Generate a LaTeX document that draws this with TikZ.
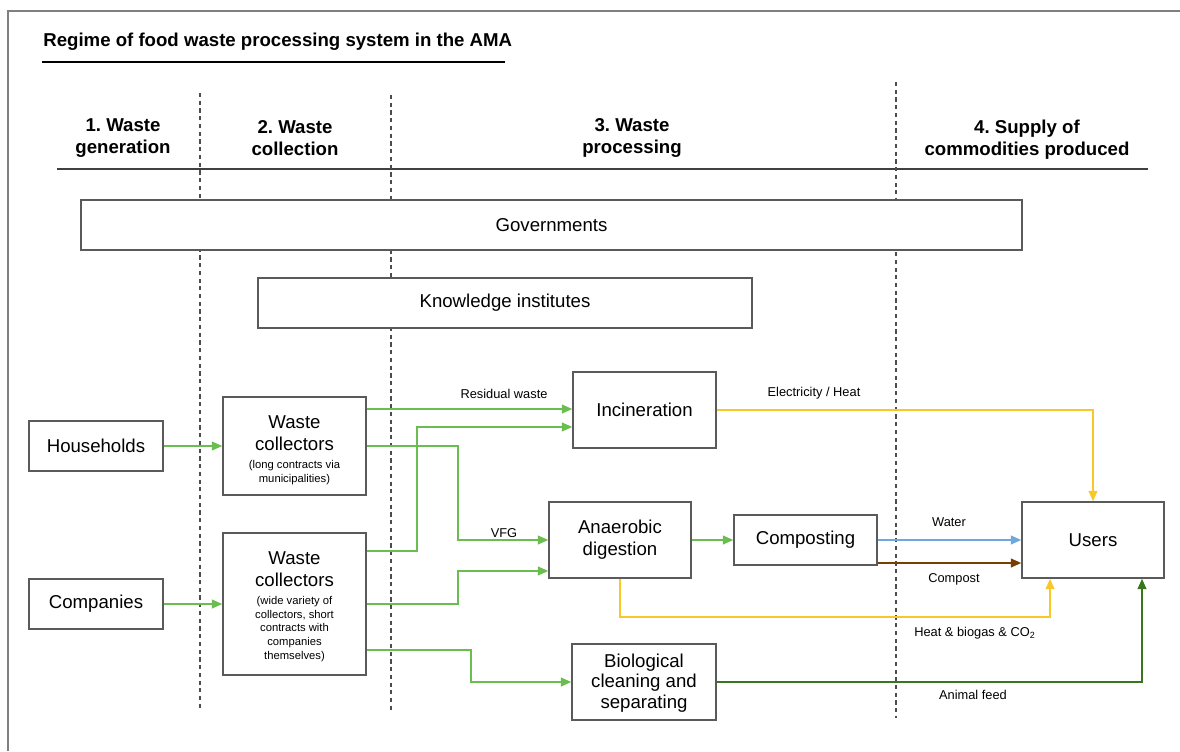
\documentclass[tikz,border=0pt]{standalone}
\usepackage{fontspec}
\setmainfont{Liberation Sans}
\usetikzlibrary{arrows.meta,calc}
\definecolor{ggreen}{RGB}{106,190,80}
\definecolor{gyellow}{RGB}{248,200,40}
\definecolor{gblue}{RGB}{111,168,220}
\definecolor{gbrown}{RGB}{120,63,4}
\definecolor{gdark}{RGB}{56,118,29}
\definecolor{bordergray}{RGB}{90,90,90}
\newcommand{\mainf}{\fontsize{10.6}{12.5}\selectfont}
\newcommand{\smallf}{\fontsize{6.4}{7.9}\selectfont}
\newcommand{\lblf}{\fontsize{7.3}{8.5}\selectfont}
\tikzset{
  box/.style={draw=bordergray, fill=white, line width=0.8pt, inner sep=0pt, align=center, font=\mainf},
  hdr/.style={align=center, font=\bfseries\fontsize{10.6}{12.5}\selectfont},
  lbl/.style={font=\lblf, inner sep=0pt},
  divider/.style={draw=black!70, line width=0.7pt, dash pattern=on 2.4pt off 2pt},
  conn/.style={line width=1.1pt, -{Triangle[length=6pt,width=5pt]}},
  gflow/.style={conn, draw=ggreen, ggreen},
  yflow/.style={conn, draw=gyellow, gyellow},
}
\begin{document}
\frenchspacing
\begin{tikzpicture}[x=0.02cm,y=-0.02cm]
\useasboundingbox (0,0) rectangle (1180,751);
\fill[white] (0,0) rectangle (1180,751);
\draw[black!50, line width=1.2pt] (8,751) -- (8,11) -- (1180,11);

% title
\node[anchor=west, inner sep=0pt, font=\bfseries\fontsize{10.6}{12.5}\selectfont] (title) at (43,42) {Regime of food waste processing system in the AMA};
\draw[line width=1.7pt] (42,62) -- (505,62);

% headers
\node[hdr] (h1) at (123,138) {1. Waste\\generation};
\node[hdr] (h2) at (295,138) {2. Waste\\collection};
\node[hdr] (h3) at (632,138) {3. Waste\\processing};
\node[hdr] (h4) at (1027,139.5) {4. Supply of\\commodities produced};
\draw[black!75, line width=0.9pt] (57,169) -- (1148,169);

% dividers
\draw[divider] (200,93) -- (200,710);
\draw[divider] (391,95) -- (391,710);
\draw[divider] (896,82) -- (896,718);

% boxes
\node[box, minimum width=18.82cm, minimum height=1.0cm] (gov) at (551.5,225) {Governments};
\node[box, minimum width=9.88cm, minimum height=1.0cm] (ki) at (505,303) {Knowledge institutes};
\node[box, minimum width=2.68cm, minimum height=1.0cm] (hh) at (96,446) {Households};
\node[box, minimum width=2.68cm, minimum height=1.0cm] (co) at (96,604) {Companies};
\node[box, minimum width=2.86cm, minimum height=1.96cm] (wc1) at (294.5,446)
  {\rule{0pt}{12.2pt}Waste\\collectors\\[-2.5pt]{\smallf (long contracts via}\\[-4.3pt]{\smallf municipalities)}};
\node[box, minimum width=2.86cm, minimum height=2.84cm] (wc2) at (294.5,604)
  {\rule{0pt}{10.4pt}Waste\\collectors\\[-2.5pt]{\smallf (wide variety of}\\[-4.7pt]{\smallf collectors, short}\\[-4.7pt]{\smallf contracts with}\\[-4.7pt]{\smallf companies}\\[-4.7pt]{\smallf themselves)}};
\node[box, minimum width=2.86cm, minimum height=1.52cm] (inc) at (644.5,410) {Incineration};
\node[box, minimum width=2.84cm, minimum height=1.52cm] (ad) at (620,540) {Anaerobic\\digestion};
\node[box, minimum width=2.86cm, minimum height=1.0cm] (comp) at (805.5,540) {Composting};
\node[box, minimum width=2.84cm, minimum height=1.52cm] (users) at (1093,540) {Users};
\node[box, minimum width=2.88cm, minimum height=1.52cm] (bio) at (644,682) {\rule{0pt}{9pt}Biological\\[-1pt]cleaning and\\[-1pt]separating};

% green flows
\draw[gflow] (hh.east) -- (hh.east -| wc1.west);
\draw[gflow] (co.east) -- (co.east -| wc2.west);
\draw[gflow] ([yshift=0.74cm]wc1.east) coordinate (r1) -- (r1 -| inc.west);
\draw[gflow] ([yshift=1.06cm]wc2.east) -- ++(1.0cm,0) |- ([yshift=-0.34cm]inc.west);
\draw[gflow] (wc1.east) -- ++(1.82cm,0) |- (ad.west);
\draw[gflow] (wc2.east) -- ++(1.82cm,0) |- ([yshift=-0.62cm]ad.west);
\draw[gflow] ([yshift=-0.92cm]wc2.east) -- ++(2.08cm,0) |- (bio.west);
\draw[gflow] (ad.east) -- (comp.west);

% outputs
\draw[yflow] (inc.east) -| (users.north);
\draw[conn, draw=gblue, gblue] (comp.east) -- (users.west);
\draw[conn, draw=gbrown, gbrown] ([yshift=-0.46cm]comp.east) coordinate (c2) -- (c2 -| users.west);
\draw[yflow] (ad.south) -- ++(0,-0.76cm) -| ([xshift=-0.86cm]users.south);
\draw[conn, draw=gdark, gdark] (bio.east) -| ([xshift=0.98cm]users.south);

% labels
\node[lbl] (lres) at (504,394) {Residual waste};
\node[lbl] (lvfg) at (504,533) {VFG};
\node[lbl] (lel) at (814,393) {Electricity / Heat};
\node[lbl] (lwat) at (949,522) {Water};
\node[lbl] (lcomp) at (954,579) {Compost};
\node[lbl] (lheat) at (975,633) {Heat \& biogas \& CO\textsubscript{2}};
\node[lbl] (lfeed) at (973,695) {Animal feed};
\end{tikzpicture}
\end{document}
